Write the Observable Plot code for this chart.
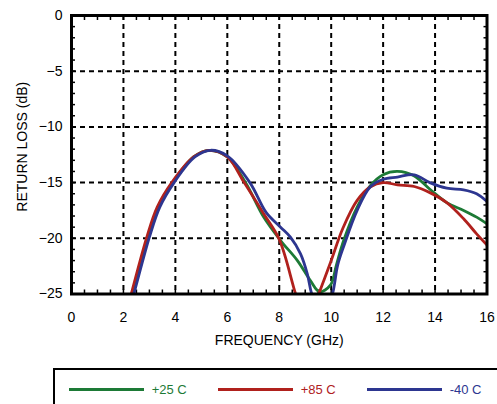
<!DOCTYPE html>
<html><head><meta charset="utf-8">
<script src="https://cdn.jsdelivr.net/npm/d3@7"></script>
<script src="https://cdn.jsdelivr.net/npm/@observablehq/plot@0.6"></script>
<style>
html,body{margin:0;padding:0;background:#fff;}
#wrap{position:relative;width:497px;height:404px;overflow:hidden;font-family:Helvetica, Arial, "Liberation Sans", sans-serif;}
#wrap svg{display:block;}
#legend{position:absolute;left:53px;top:368px;width:520px;height:60px;border:2px solid #000;box-sizing:border-box;background:#fff;}
.lg-line{position:absolute;top:17.5px;width:75px;height:3px;}
.lg-text{position:absolute;top:12.5px;font-size:13px;line-height:13px;white-space:nowrap;}
</style>
</head><body>
<div id="wrap"><div id="chart"></div><div id="legend"></div></div>
<script>
// ---- data ----
const seriesNames = ["+25 C", "+85 C", "-40 C"];
const seriesColors = ["#1d7a36", "#b0211d", "#2d3690"];

const greenFreq = [2.2, 2.35, 2.95, 3.35, 3.9, 4.7, 5.3, 6.0, 6.7, 7.4, 8.05, 8.7, 9.2, 9.55, 9.97, 10.2, 10.48, 11.0, 11.5, 12.0, 12.55, 13.2, 13.8, 14.45, 15.1, 15.6, 16.0];
const greenDb   = [-26.2, -25, -19.8, -17.2, -15.0, -12.7, -12.1, -12.7, -15.0, -18.1, -20.2, -22.0, -23.8, -24.8, -24.2, -22.4, -20.2, -17.2, -15.3, -14.3, -14.0, -14.4, -15.6, -16.8, -17.5, -18.1, -18.7];

const redFreq = [2.15, 2.3, 2.9, 3.3, 3.86, 4.7, 5.3, 6.0, 6.65, 7.4, 8.0, 8.63, 9.05, 9.52, 9.97, 10.45, 11.0, 11.5, 12.0, 12.55, 13.2, 13.8, 14.45, 15.1, 15.6, 16.0];
const redDb   = [-26.3, -25, -19.9, -17.2, -15.0, -12.7, -12.1, -12.7, -15.0, -17.8, -20.1, -25, -28, -25, -22.2, -19.1, -16.6, -15.4, -15.0, -15.2, -15.35, -15.9, -16.8, -18.25, -19.6, -20.6];

const blueFreq = [2.25, 2.4, 3.0, 3.4, 3.95, 4.75, 5.35, 6.0, 6.87, 7.5, 8.05, 8.43, 8.82, 9.08, 9.25, 9.65, 10.05, 10.25, 10.5, 11.0, 11.5, 12.0, 12.55, 13.2, 13.8, 14.45, 15.1, 15.6, 16.0];
const blueDb   = [-26.2, -25, -19.9, -17.2, -15.0, -12.7, -12.1, -12.6, -15.0, -17.7, -19.0, -19.9, -21.4, -23.2, -25, -27.5, -25, -22.4, -20.6, -17.5, -15.4, -14.7, -14.5, -14.3, -15.0, -15.5, -15.65, -16.0, -16.7];

const xTicks = [0, 2, 4, 6, 8, 10, 12, 14, 16];
const yTicks = [0, -5, -10, -15, -20, -25];
const xGrid = [2, 4, 6, 8, 10, 12, 14];
const yGrid = [-5, -10, -15, -20];
const xMinor = d3.range(0, 16.01, 0.5);
const yMinor = d3.range(-25, 0.01, 1);
const xLabel = "FREQUENCY (GHz)";
const yLabel = "RETURN LOSS (dB)";

const toRows = (fs, ds) => fs.map((f, i) => ({f, db: ds[i]}));
const rows = [toRows(greenFreq, greenDb), toRows(redFreq, redDb), toRows(blueFreq, blueDb)];

const font = 'Helvetica, Arial, "Liberation Sans", sans-serif';
const dash = {stroke: "#000", strokeWidth: 2, strokeDasharray: "5,4"};
const minor = {tickSize: -4, tickFormat: () => "", label: null, strokeWidth: 1.5};

const chart = Plot.plot({
  width: 497,
  height: 360,
  marginTop: 15,
  marginRight: 10.5,
  marginBottom: 66.5,
  marginLeft: 71,
  x: {domain: [0, 16]},
  y: {domain: [-25, 0]},
  style: {fontFamily: font, fontSize: "14px", color: "#000", background: "#fff"},
  marks: [
    Plot.ruleX(xGrid, dash),
    Plot.ruleY(yGrid, dash),
    Plot.axisX(xMinor, {anchor: "bottom", ...minor}),
    Plot.axisX(xMinor, {anchor: "top", ...minor}),
    Plot.axisY(yMinor, {anchor: "left", ...minor}),
    Plot.axisY(yMinor, {anchor: "right", ...minor}),
    Plot.axisX(xTicks, {anchor: "bottom", tickSize: 0, tickPadding: 18, label: null, fontSize: 14}),
    Plot.axisY(yTicks, {anchor: "left", tickSize: 0, tickPadding: 9, label: null, fontSize: 14}),
    ...rows.map((r, i) => Plot.line(r, {x: "f", y: "db", stroke: seriesColors[i], strokeWidth: 2.8, curve: "catmull-rom", clip: true})),
    Plot.frame({stroke: "#000", strokeWidth: 3}),
    Plot.text([xLabel], {frameAnchor: "bottom", dy: 50.5, fontSize: 14, fill: "#000", textAnchor: "middle"}),
    Plot.text([yLabel], {frameAnchor: "left", dx: -48.5, dy: -8, rotate: -90, fontSize: 14, fill: "#000", textAnchor: "middle"})
  ]
});
document.getElementById("chart").appendChild(chart);

const legend = document.getElementById("legend");
seriesNames.forEach((name, i) => {
  const line = document.createElement("div");
  line.className = "lg-line";
  line.style.left = (14.3 + 149 * i) + "px";
  line.style.background = seriesColors[i];
  legend.appendChild(line);
  const t = document.createElement("div");
  t.className = "lg-text";
  t.style.left = (96.7 + 149 * i) + "px";
  t.style.color = seriesColors[i];
  t.textContent = name;
  legend.appendChild(t);
});
</script>
</body></html>
